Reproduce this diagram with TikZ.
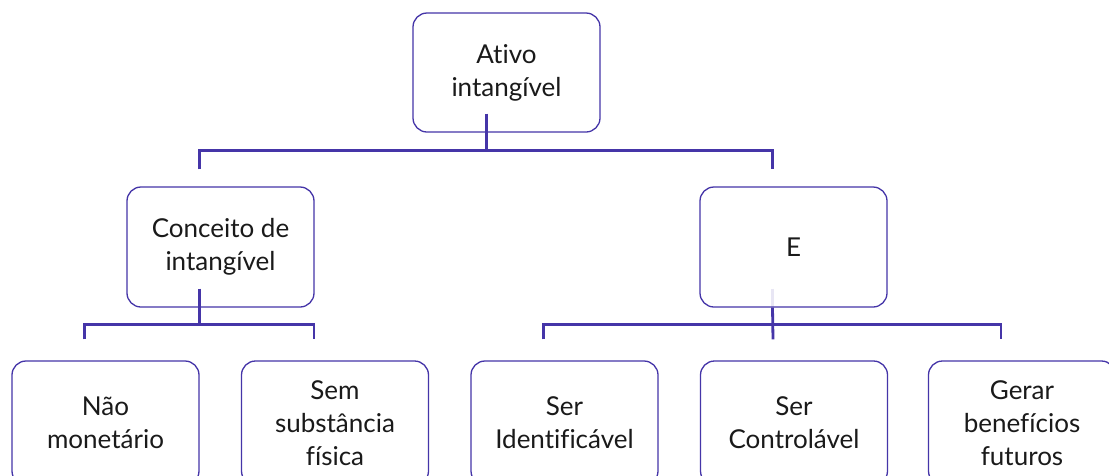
\documentclass[tikz,border=0pt]{standalone}
\usepackage{fontspec}
\setmainfont{Lato}[Ligatures={NoCommon}]
\usetikzlibrary{calc}
\definecolor{edge}{HTML}{4535A8}
\definecolor{ink}{HTML}{1A1A1A}
\begin{document}
\begin{tikzpicture}[x=1pt,y=1pt,
  box/.style={draw=edge, line width=1.3pt, rounded corners=14pt, fill=white,
    minimum width=187pt, align=center, text=ink, inner sep=0pt,
    font=\fontsize{26}{33}\selectfont},
  link/.style={draw=edge, line width=2.8pt}]
\clip (0,0) rectangle (1109,-475);
\fill[white] (0,0) rectangle (1109,-475);
% boxes
\node[box, minimum height=119pt] (ativo) at (506.5,-72.5) {Ativo\\intangível};
\node[box, minimum height=120pt] (conc) at (220.5,-247) {Conceito de\\intangível};
\node[box, minimum height=120pt] (e) at (793.5,-247) {E};
\node[box, minimum height=124pt] (n1) at (105.5,-423) {Não\\monetário};
\node[box, minimum height=124pt] (n2) at (335,-423) {Sem\\substância\\física};
\node[box, minimum height=124pt] (n3) at (564.5,-423) {Ser\\Identificável};
\node[box, minimum height=124pt] (n4) at (794,-423) {Ser\\Controlável};
\node[box, minimum height=124pt] (n5) at (1022,-423) {Gerar\\benefícios\\futuros};
% level 1 connectors
\coordinate (h1) at ($(ativo.south)+(-20,-18)$);
\draw[link] ($(ativo.south)+(-20,19)$) -- (h1);
\draw[link] ($(conc.north)+(-21,17)$) |- (h1) -| ($(e.north)+(-21,17)$);
% level 2 left
\coordinate (h2) at ($(conc.south)+(-21,-17)$);
\draw[link] ($(conc.south)+(-21,19)$) -- (h2);
\draw[link] ($(n1.north)+(-21,21)$) |- (h2) -| ($(n2.north)+(-21,21)$);
% level 2 right
\coordinate (h3) at ($(e.south)+(-21,-17)$);
\draw[link, opacity=0.12] ($(e.south)+(-21,19)$) -- ($(e.south)+(-21,0)$);
\draw[link] ($(e.south)+(-21,0)$) -- ($(n4.north)+(-21,21)$);
\draw[link] ($(n3.north)+(-21,21)$) |- (h3) -| ($(n5.north)+(-21,21)$);
\end{tikzpicture}
\end{document}
